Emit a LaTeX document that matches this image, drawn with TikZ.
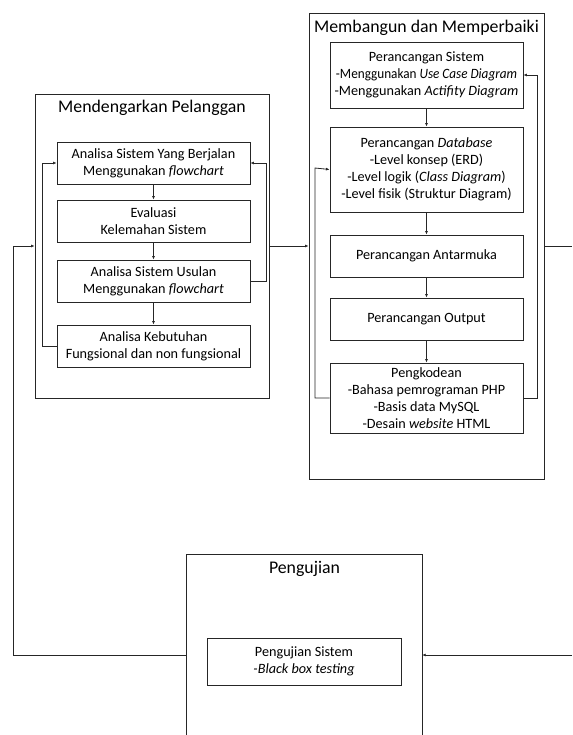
\documentclass[tikz,border=0pt]{standalone}
\usepackage{fontspec}
\setmainfont{Carlito}
\usetikzlibrary{arrows.meta}
\begin{document}
\begin{tikzpicture}[x=1pt,y=-1pt,
  frame/.style={draw=black!85,line width=0.9pt},
  stagebox/.style={draw=black!85,line width=0.9pt,minimum width=193pt,align=center,inner sep=0pt,font=\fontsize{14.2}{17}\selectfont},
  heading/.style={font=\fontsize{17.8}{20}\selectfont,inner sep=0pt},
  link/.style={draw=black!85,line width=0.8pt},
  flow/.style={link,-{Latex[length=3.5pt,width=3pt]}},
]
\useasboundingbox (0,0) rectangle (572,735);

% ---- Mendengarkan Pelanggan ----
\node[frame,minimum width=234pt,minimum height=304pt] (L) at (152,246) {};
\node[heading] (Lt) at (152,108) {Mendengarkan Pelanggan};
\node[stagebox,minimum height=42pt] (a1) at (153.5,163) {Analisa Sistem Yang Berjalan\\Menggunakan \textit{flowchart}};
\node[stagebox,minimum height=42pt] (a2) at (153.5,221) {Evaluasi\\Kelemahan Sistem};
\node[stagebox,minimum height=42pt] (a3) at (153.5,281) {Analisa Sistem Usulan\\Menggunakan \textit{flowchart}};
\node[stagebox,minimum height=42pt] (a4) at (153.5,346) {Analisa Kebutuhan\\Fungsional dan non fungsional};
\draw[flow] (a1) -- (a2);
\draw[flow] (a2) -- (a3);
\draw[flow] (a3) -- (a4);
\draw[flow] (a4.west) -| (42,163) -- (a1.west);
\draw[flow] (a3.east) -| (266,163) -- (a1.east);

% ---- Membangun dan Memperbaiki ----
\node[frame,minimum width=235pt,minimum height=466pt] (M) at (426.5,246) {};
\node[heading] (Mt) at (426.5,28) {Membangun dan Memperbaiki};
\node[stagebox,minimum height=66pt] (b1) at (426.5,75) {Perancangan Sistem\\\scalebox{0.93}[1]{-Menggunakan \textit{Use Case Diagram}}\\-Menggunakan \textit{Actifity Diagram}};
\node[stagebox,minimum height=85pt] (b2) at (426.5,169.5) {Perancangan \textit{Database}\\-Level konsep (ERD)\\-Level logik (\textit{Class Diagram})\\-Level fisik (Struktur Diagram)};
\node[stagebox,minimum height=42pt] (b3) at (426.5,256) {Perancangan Antarmuka};
\node[stagebox,minimum height=42pt] (b4) at (426.5,319) {Perancangan Output};
\node[stagebox,minimum height=70pt] (b5) at (426.5,398) {Pengkodean\\-Bahasa pemrograman PHP\\-Basis data MySQL\\-Desain \textit{website} HTML};
\draw[flow] (b1) -- (b2);
\draw[flow] (b2) -- (b3);
\draw[flow] (b3) -- (b4);
\draw[flow] (b4) -- (b5);
\draw[flow] (b5.east) -| (537,75) -- (b1.east);
\draw[flow] (b5.west) -| (315,168) -- (b2.west);

% ---- Pengujian (open at the bottom) ----
\node[minimum width=235pt,minimum height=185pt,inner sep=0pt] (P) at (304.5,647.5) {};
\draw[frame] (P.south west) -- (P.north west) -- (P.north east) -- (P.south east);
\node[heading] (Pt) at (304.5,569) {Pengujian};
\node[stagebox,minimum width=194pt,minimum height=47pt] (c1) at (304,661.5) {Pengujian Sistem\\\textit{-Black box testing}};

% ---- links between the stages ----
\coordinate (outR) at (572,246);
\coordinate (inR) at (572,655);
\coordinate (inP) at (P.east |- inR);
\coordinate (outP) at (P.west |- inR);
\draw[flow] (L.east) -- (M.west);
\draw[link] (M.east) -- (outR);
\draw[flow] (inR) -- (inP);
\draw[flow] (outP) -| (13,246) -- (L.west);
\end{tikzpicture}
\end{document}
